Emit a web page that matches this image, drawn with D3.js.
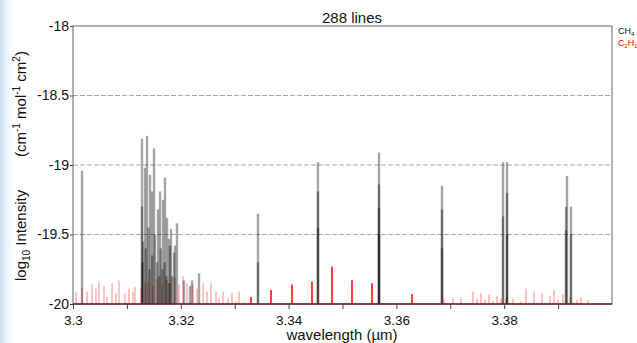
<!DOCTYPE html>
<html>
<head>
<meta charset="utf-8">
<script src="https://cdn.jsdelivr.net/npm/d3@7"></script>
<style>
  body { margin: 0; background: #fff; }
  svg { display: block; font-family: "Liberation Sans", Arial, sans-serif; }
  .axis-text { fill: #111; font-size: 14px; }
  .grid-line { stroke: #a8a8a8; stroke-dasharray: 5 2; stroke-width: 1; }
</style>
</head>
<body>
<div id="chart"></div>
<script>
// CH4 lines: [wavelength (um), log10 intensity]
const ch4Lines = [
  [3.30167, -19.04],
  [3.31280, -18.81], [3.31280, -19.30], [3.31300, -19.55], [3.31290, -19.70],
  [3.31336, -19.02], [3.31350, -19.60], [3.31373, -18.79], [3.31400, -19.45],
  [3.31420, -19.75], [3.31429, -19.07], [3.31466, -19.19], [3.31470, -19.65],
  [3.31503, -18.88], [3.31520, -19.50], [3.31560, -19.70], [3.31577, -19.32],
  [3.31600, -19.80], [3.31614, -19.19], [3.31630, -19.60], [3.31660, -19.75],
  [3.31670, -19.25], [3.31707, -19.09], [3.31700, -19.70], [3.31730, -19.80],
  [3.31744, -19.38], [3.31781, -19.53], [3.31780, -19.85], [3.31800, -19.58],
  [3.31818, -19.46], [3.31840, -19.80], [3.31874, -19.63], [3.31892, -19.58],
  [3.31929, -19.42], [3.32059, -19.83], [3.32171, -19.87], [3.32208, -19.83],
  [3.32338, -19.78],
  [3.33432, -19.35], [3.33432, -19.70],
  [3.34545, -18.98], [3.34545, -19.19], [3.34545, -19.45],
  [3.35677, -18.91], [3.35677, -19.14], [3.35677, -19.31], [3.35677, -19.50],
  [3.36846, -19.15], [3.36846, -19.32], [3.36846, -19.60],
  [3.37978, -18.98], [3.37978, -19.37],
  [3.38052, -18.98], [3.38052, -19.20], [3.38052, -19.50],
  [3.39147, -19.30], [3.39147, -19.47], [3.39165, -19.08],
  [3.39239, -19.30], [3.39239, -19.50]
];

// C2H2 weak (hot band) lines
const c2h2Weak = [
  [3.30056, -19.91], [3.30167, -19.88], [3.30260, -19.91], [3.30353, -19.86],
  [3.30427, -19.89], [3.30482, -19.84], [3.30575, -19.87], [3.30631, -19.95],
  [3.30724, -19.85], [3.30798, -19.92], [3.30853, -19.83], [3.30965, -19.92],
  [3.31039, -19.89], [3.31113, -19.91], [3.31150, -19.88], [3.31262, -19.88],
  [3.31336, -19.85], [3.31391, -19.84], [3.31484, -19.87], [3.31558, -19.82],
  [3.31651, -19.86], [3.31744, -19.83], [3.31800, -19.85], [3.31892, -19.81],
  [3.31967, -19.86], [3.32041, -19.80], [3.32115, -19.85], [3.32226, -19.86],
  [3.32301, -19.89], [3.32412, -19.85], [3.32486, -19.91], [3.32560, -19.85],
  [3.32653, -19.91], [3.32709, -19.96], [3.32783, -19.91], [3.32876, -19.96],
  [3.32950, -19.92], [3.33024, -19.98], [3.33080, -19.91], [3.33173, -19.99],
  [3.36883, -19.96], [3.37050, -19.96], [3.37199, -19.96], [3.37421, -19.91],
  [3.37495, -19.96], [3.37570, -19.92], [3.37644, -19.97], [3.37718, -19.93],
  [3.37792, -19.98], [3.37866, -19.94], [3.37941, -19.96], [3.38033, -19.96],
  [3.38163, -19.96], [3.38312, -19.98], [3.38404, -19.89], [3.38553, -19.91],
  [3.38701, -19.92], [3.38850, -19.94], [3.38924, -19.90], [3.38998, -19.97],
  [3.39091, -19.93], [3.39221, -19.95], [3.39351, -19.97], [3.39425, -19.95],
  [3.39555, -19.97]
];

// C2H2 strong lines
const c2h2Strong = [
  [3.33302, -19.95], [3.33673, -19.90], [3.34063, -19.86], [3.34434, -19.84],
  [3.34805, -19.73], [3.35176, -19.83], [3.35547, -19.85], [3.36289, -19.93]
];

const xTicks = [3.30, 3.31, 3.32, 3.33, 3.34, 3.35, 3.36, 3.37, 3.38, 3.39];
const xLabels = ['3.3', '', '3.32', '', '3.34', '', '3.36', '', '3.38', ''];
const yTicks = [-20, -19.5, -19, -18.5, -18];
const yLabels = ['-20', '-19.5', '-19', '-18.5', '-18'];

const width = 637;
const height = 343;
const plot = { left: 73, right: 612, top: 26, bottom: 304 };

const svg = d3.select('#chart')
  .append('svg')
  .attr('width', width)
  .attr('height', height);

// faint blue slide background on the left edge
const defs = svg.append('defs');
const grad = defs.append('linearGradient').attr('id', 'edge');
grad.append('stop').attr('offset', '0%').attr('stop-color', '#c9ddf0');
grad.append('stop').attr('offset', '100%').attr('stop-color', '#ffffff').attr('stop-opacity', 0);
svg.append('rect').attr('x', 0).attr('y', 0).attr('width', 18).attr('height', height).attr('fill', 'url(#edge)');

const x = d3.scaleLinear().domain([3.3, 3.4]).range([plot.left, plot.right]);
const y = d3.scaleLinear().domain([-20, -18]).range([plot.bottom, plot.top]);

// grid
svg.selectAll('line.grid-line')
  .data(yTicks.slice(1, -1))
  .enter()
  .append('line')
  .attr('class', 'grid-line')
  .attr('x1', plot.left)
  .attr('x2', plot.right)
  .attr('y1', d => y(d))
  .attr('y2', d => y(d));

// frame
svg.append('rect')
  .attr('x', plot.left)
  .attr('y', plot.top)
  .attr('width', plot.right - plot.left)
  .attr('height', plot.bottom - plot.top)
  .attr('fill', 'none')
  .attr('stroke', '#666')
  .attr('stroke-width', 1);

// C2H2 lines
svg.append('g')
  .selectAll('line')
  .data(c2h2Weak)
  .join('line')
  .attr('x1', d => x(d[0]))
  .attr('x2', d => x(d[0]))
  .attr('y1', y(-20))
  .attr('y2', d => y(d[1]))
  .attr('stroke', '#ff2020')
  .attr('stroke-opacity', 0.32)
  .attr('stroke-width', 1.7);

svg.append('g')
  .selectAll('line')
  .data(c2h2Strong)
  .join('line')
  .attr('x1', d => x(d[0]))
  .attr('x2', d => x(d[0]))
  .attr('y1', y(-20))
  .attr('y2', d => y(d[1]))
  .attr('stroke', '#f00')
  .attr('stroke-opacity', 0.9)
  .attr('stroke-width', 1.7);

// CH4 lines
svg.append('g')
  .selectAll('line')
  .data(ch4Lines)
  .join('line')
  .attr('x1', d => x(d[0]))
  .attr('x2', d => x(d[0]))
  .attr('y1', y(-20))
  .attr('y2', d => y(d[1]))
  .attr('stroke', '#000')
  .attr('stroke-opacity', 0.35)
  .attr('stroke-width', 2.4);

// baseline
svg.append('line')
  .attr('x1', plot.left)
  .attr('x2', plot.right)
  .attr('y1', plot.bottom)
  .attr('y2', plot.bottom)
  .attr('stroke', '#6a2424')
  .attr('stroke-width', 1.3);

// axes
const xAxis = svg.append('g')
  .attr('transform', `translate(0, ${plot.bottom})`)
  .call(d3.axisBottom(x)
    .tickValues(xTicks)
    .tickFormat((d, i) => xLabels[i])
    .tickSize(5)
    .tickPadding(6)
    .tickSizeOuter(0));
xAxis.select('.domain').remove();
xAxis.selectAll('line').attr('stroke', '#444');
xAxis.selectAll('text').attr('class', 'axis-text').style('font-size', '13.5px');

const yAxis = svg.append('g')
  .attr('transform', `translate(${plot.left}, 0)`)
  .call(d3.axisLeft(y)
    .tickValues(yTicks)
    .tickFormat((d, i) => yLabels[i])
    .tickSize(3)
    .tickPadding(1)
    .tickSizeOuter(0));
yAxis.select('.domain').remove();
yAxis.selectAll('line').attr('stroke', '#444');
yAxis.selectAll('text').attr('class', 'axis-text');

// title
svg.append('text')
  .attr('x', 352)
  .attr('y', 23)
  .attr('text-anchor', 'middle')
  .style('font-size', '15px')
  .attr('fill', '#111')
  .text('288 lines');

// x label
svg.append('text')
  .attr('x', 342)
  .attr('y', 340)
  .attr('text-anchor', 'middle')
  .style('font-size', '15px')
  .attr('fill', '#111')
  .text('wavelength (\u00b5m)');

// y label in two pieces
const yl1 = svg.append('text')
  .attr('transform', 'translate(26, 281) rotate(-90)')
  .style('font-size', '15px')
  .attr('fill', '#111');
yl1.append('tspan').text('log');
yl1.append('tspan').attr('dy', 4).style('font-size', '10px').text('10');
yl1.append('tspan').attr('dy', -4).text(' Intensity');

const yl2 = svg.append('text')
  .attr('transform', 'translate(26, 157) rotate(-90)')
  .style('font-size', '15px')
  .attr('fill', '#111');
yl2.append('tspan').text('(cm');
yl2.append('tspan').attr('dy', -6).style('font-size', '10px').text('-1');
yl2.append('tspan').attr('dy', 6).text(' mol');
yl2.append('tspan').attr('dy', -6).style('font-size', '10px').text('-1');
yl2.append('tspan').attr('dy', 6).text(' cm');
yl2.append('tspan').attr('dy', -6).style('font-size', '10px').text('2');
yl2.append('tspan').attr('dy', 6).text(')');

// legend
const lg1 = svg.append('text').attr('x', 618).attr('y', 34).style('font-size', '9px').attr('fill', '#111');
lg1.append('tspan').text('CH');
lg1.append('tspan').attr('dy', 2).style('font-size', '6px').text('4');
const lg2 = svg.append('text').attr('x', 618).attr('y', 46).style('font-size', '9px').attr('fill', '#f00');
lg2.append('tspan').text('C');
lg2.append('tspan').attr('dy', 2).style('font-size', '6px').text('2');
lg2.append('tspan').attr('dy', -2).text('H');
lg2.append('tspan').attr('dy', 2).style('font-size', '6px').text('2');
</script>
</body>
</html>
